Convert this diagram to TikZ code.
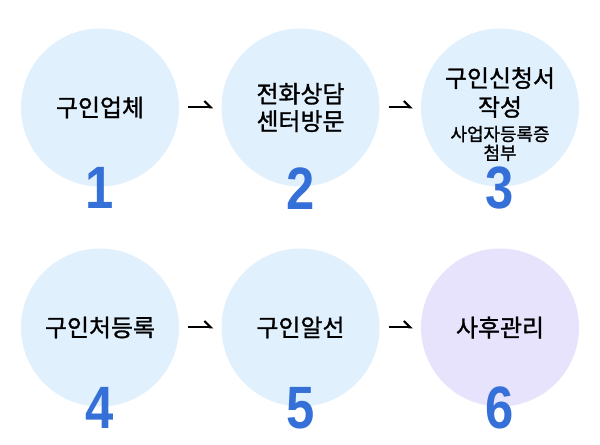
\documentclass[tikz,border=0pt]{standalone}
\usepackage{fontspec}
\newfontfamily\kofont[FakeBold=1.2]{Noto Sans CJK KR}
\newfontfamily\numfont[FakeStretch=0.85]{Liberation Sans}
\usetikzlibrary{arrows.meta,positioning}
\definecolor{stepblue}{HTML}{E0F0FD}
\definecolor{steplilac}{HTML}{E8E3FC}
\definecolor{numblue}{HTML}{3570D8}

\begin{document}
\begin{tikzpicture}[x=1bp, y=1bp,
    stepcircle/.style={circle, fill=stepblue, minimum size=158bp, inner sep=0pt,
        align=center, font=\kofont\fontsize{24}{27.5}\selectfont},
    steptext/.style={align=center, inner sep=0pt, font=\kofont\fontsize{24}{29}\selectfont},
    smalltext/.style={align=center, inner sep=0pt, font=\kofont\fontsize{18}{19}\selectfont},
    stepnum/.style={inner sep=0pt, text=numblue, font=\numfont\bfseries\fontsize{60}{60}\selectfont},
    edge/.style={line width=2bp, -{Straight Barb[harpoon, length=6.5bp, width=13bp]},
        shorten <=9bp, shorten >=8bp}
]
    \useasboundingbox (0,0) rectangle (600,445);
    \node[stepcircle] (s1) at (100,337.5) {구인업체};
    \node[stepcircle] (s2) at (300.5,337.5) {전화상담\\센터방문};
    \node[stepcircle] (s3) at (500,337.5) {};
    \node[stepcircle] (s4) at (100,117.5) {구인처등록};
    \node[stepcircle] (s5) at (300.5,117.5) {구인알선};
    \node[stepcircle, fill=steplilac] (s6) at (500,117.5) {사후관리};
    \node[steptext] (t3) at ([yshift=15bp]s3.center) {구인신청서\\작성};
    \node[smalltext] (t3b) at ([yshift=-36bp]s3.center) {사업자등록증\\첨부};
    \node[stepnum] (n1) at ([yshift=-1.5bp]s1.south) {1};
    \node[stepnum] (n2) at ([yshift=-1.5bp]s2.south) {2};
    \node[stepnum] (n3) at ([yshift=-1.5bp]s3.south) {3};
    \node[stepnum] (n4) at ([yshift=-1.5bp]s4.south) {4};
    \node[stepnum] (n5) at ([yshift=-1.5bp]s5.south) {5};
    \node[stepnum] (n6) at ([yshift=-1.5bp]s6.south) {6};
    \draw[edge] (s1) -- (s2);
    \draw[edge] (s2) -- (s3);
    \draw[edge] (s4) -- (s5);
    \draw[edge] (s5) -- (s6);
\end{tikzpicture}
\end{document}
